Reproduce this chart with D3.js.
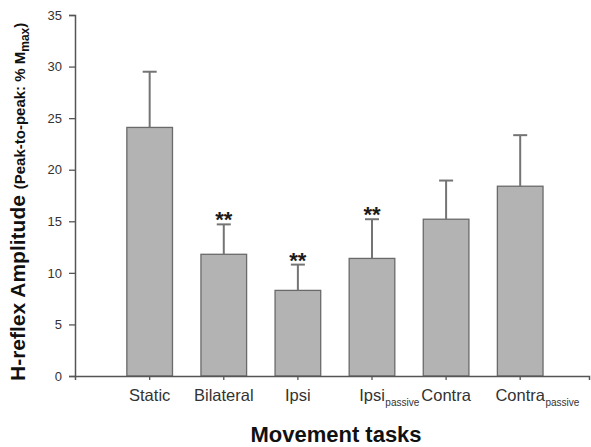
<!DOCTYPE html>
<html lang="en">

<head>
  <meta charset="UTF-8">
  <title>H-reflex amplitude</title>
  <script src="https://d3js.org/d3.v7.min.js"></script>
</head>

<body>

</body>
<style>
  body {
    margin: 0;
    padding: 0;
    background: #fff;
  }

  text {
    font-family: "Liberation Sans", Arial, sans-serif;
  }
</style>
<script>
  const width = 591
  const height = 447

  // data
  const tasks = ['Static', 'Bilateral', 'Ipsi', 'Ipsi_passive', 'Contra', 'Contra_passive']
  const means = [24.1, 11.8, 8.3, 11.4, 15.2, 18.4]
  const sds = [5.4, 2.9, 2.5, 3.8, 3.75, 4.95]
  const marks = ['', '**', '**', '**', '', '']
  const yTicks = [0, 5, 10, 15, 20, 25, 30, 35]

  const rows = tasks.map((t, i) => ({ task: t, mean: means[i], sd: sds[i], mark: marks[i] }))

  const margin = { top: 15, right: 2, bottom: 71, left: 75 }

  const x = d3.scaleBand()
    .domain(tasks)
    .range([margin.left, width - margin.right])
    .paddingInner(0.384)
    .paddingOuter(0.66)
    .align(0.53)

  const y = d3.scaleLinear()
    .domain([0, 35])
    .range([height - margin.bottom, margin.top])

  const svg = d3.select('body').append('svg')
    .attr('width', width)
    .attr('height', height)

  // bars
  svg.append('g')
    .selectAll('rect')
    .data(rows)
    .join('rect')
    .attr('x', d => x(d.task))
    .attr('y', d => y(d.mean))
    .attr('width', x.bandwidth())
    .attr('height', d => y(0) - y(d.mean))
    .attr('fill', '#b3b3b3')
    .attr('stroke', '#6a6a6a')
    .attr('stroke-width', 1.3)

  // error bars (upper only)
  const err = svg.append('g')
    .attr('stroke', '#747474')
    .attr('stroke-width', 2)
    .selectAll('g')
    .data(rows)
    .join('g')
  err.append('line')
    .attr('x1', d => x(d.task) + x.bandwidth() / 2)
    .attr('x2', d => x(d.task) + x.bandwidth() / 2)
    .attr('y1', d => y(d.mean))
    .attr('y2', d => y(d.mean + d.sd))
  err.append('line')
    .attr('x1', d => x(d.task) + x.bandwidth() / 2 - 7)
    .attr('x2', d => x(d.task) + x.bandwidth() / 2 + 7)
    .attr('y1', d => y(d.mean + d.sd))
    .attr('y2', d => y(d.mean + d.sd))

  // significance stars
  svg.append('g')
    .selectAll('text')
    .data(rows.filter(d => d.mark))
    .join('text')
    .attr('x', d => x(d.task) + x.bandwidth() / 2)
    .attr('y', d => y(d.mean + d.sd) + 3)
    .attr('text-anchor', 'middle')
    .attr('font-size', 22)
    .attr('font-weight', 'bold')
    .attr('fill', '#1a1a1a')
    .text(d => d.mark)

  // y axis
  const yAxis = svg.append('g')
    .attr('transform', `translate(${margin.left},0)`)
    .call(d3.axisLeft(y).tickValues(yTicks).tickSizeOuter(0).tickSize(6).tickPadding(7))
  yAxis.select('.domain').attr('stroke', '#555').attr('stroke-width', 1.5)
  yAxis.selectAll('.tick line').attr('stroke', '#555').attr('stroke-width', 1.3)
  yAxis.selectAll('.tick text')
    .attr('font-family', '"Liberation Sans", Arial, sans-serif')
    .attr('font-size', 13)
    .attr('fill', '#333')

  // x axis
  const xAxis = svg.append('g')
    .attr('transform', `translate(0,${y(0)})`)
    .call(d3.axisBottom(x).tickSizeOuter(0).tickSize(4).tickPadding(9).tickFormat(d => d.split('_')[0]))
  xAxis.select('.domain').attr('stroke', '#555').attr('stroke-width', 1.5)
  xAxis.selectAll('.tick line').attr('stroke', '#555').attr('stroke-width', 1.3)
  xAxis.selectAll('.tick text')
    .attr('font-family', '"Liberation Sans", Arial, sans-serif')
    .attr('font-size', 16.5)
    .attr('fill', '#333')

  // subscripts after the main label
  xAxis.selectAll('.tick').each(function (d) {
    const parts = d.split('_')
    if (parts.length < 2) return
    const main = d3.select(this).select('text')
    const w = main.node().getComputedTextLength()
    d3.select(this).append('text')
      .attr('x', w / 2 + 0.5)
      .attr('y', 29.5)
      .attr('font-family', '"Liberation Sans", Arial, sans-serif')
      .attr('font-size', 10)
      .attr('fill', '#333')
      .attr('text-anchor', 'start')
      .text(parts[1])
  })

  // axis titles
  svg.append('text')
    .attr('x', (margin.left + width) / 2 + 3)
    .attr('y', 442)
    .attr('text-anchor', 'middle')
    .attr('font-size', 22)
    .attr('font-weight', 'bold')
    .attr('fill', '#111')
    .text('Movement tasks')

  const yTitle = svg.append('text')
    .attr('transform', 'translate(25,381) rotate(-90)')
    .attr('font-weight', 'bold')
    .attr('fill', '#111')
  yTitle.append('tspan').attr('font-size', 21).text('H-reflex Amplitude ')
  yTitle.append('tspan').attr('font-size', 15).text('(Peak-to-peak: % M')
  yTitle.append('tspan').attr('font-size', 12).attr('dy', 4).text('max')
  yTitle.append('tspan').attr('font-size', 15).attr('dy', -4).text(')')
</script>

</html>
